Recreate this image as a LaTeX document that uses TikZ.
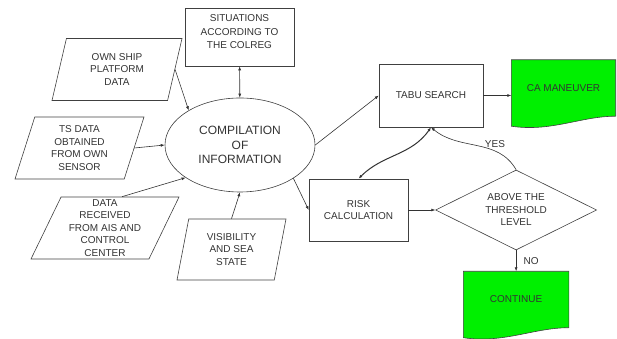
\documentclass[tikz,border=0pt]{standalone}
\usepackage{fontspec}
\setmainfont{Liberation Sans}
\usetikzlibrary{shapes.geometric,arrows.meta,positioning,calc,backgrounds}
\definecolor{docgreen}{RGB}{0,240,0}

\begin{document}
\begin{tikzpicture}[x=1pt, y=1pt,
  every node/.style={text=black!80, font=\fontsize{10}{12.5}\selectfont},
  block/.style={rectangle, draw=black!75, line width=0.6pt, align=center, inner sep=1pt},
  io/.style={trapezium, trapezium left angle=#1, trapezium right angle=180-#1, trapezium stretches body, draw=black!75, line width=0.6pt, align=center, inner sep=1pt, minimum height=62},
  io/.default=67,
  hub/.style={ellipse, draw=black!75, line width=0.6pt, align=center, inner sep=0pt, minimum width=150, minimum height=94, font=\fontsize{12}{14.5}\selectfont},
  decision/.style={diamond, aspect=2, draw=black!75, line width=0.6pt, align=center, inner sep=0pt, minimum width=161, minimum height=80},
  doc/.style={rectangle, align=center, inner sep=0pt, minimum width=104, minimum height=56},
  docfill/.style={draw=black!75, line width=0.6pt, fill=docgreen},
  arr/.style={-{Latex[length=4pt,width=3pt]}, draw=black!80, line width=0.6pt},
  dblarr/.style={{Latex[length=4pt,width=3pt]}-{Latex[length=4pt,width=3pt]}, draw=black!80, line width=0.6pt},
  lab/.style={font=\fontsize{10}{12}\selectfont}
]
\useasboundingbox (0,0) rectangle (617,339);
% inputs on the left
\node[block, minimum width=109, minimum height=58, text depth=10pt, font=\fontsize{10}{13.5}\selectfont] (sit) at (239.5,302) {SITUATIONS\\ACCORDING TO\\THE COLREG};
\node[io, minimum width=130] (own) at (117,269.5) {OWN SHIP\\PLATFORM\\DATA};
\node[io, minimum width=129] (ts) at (79.5,191) {TS DATA\\OBTAINED\\FROM OWN\\SENSOR};
\node[io=63, minimum width=148] (ais) at (105,111) {DATA\\RECEIVED\\FROM AIS AND\\CONTROL\\CENTER};
\node[io=71, minimum width=109, minimum height=61] (vis) at (231.5,89.5) {VISIBILITY\\AND SEA\\STATE};
\node[hub] (comp) at (240,194) {COMPILATION\\OF\\INFORMATION};
% decision part
\node[block, minimum width=104, minimum height=63] (tabu) at (431,243.5) {TABU SEARCH};
\node[doc, right=28pt of tabu, yshift=7.5pt] (ca) {CA MANEUVER};
\node[block, minimum width=99, minimum height=62] (risk) at (358.5,129) {RISK\\CALCULATION};
\node[decision, right=27pt of risk] (dec) {ABOVE THE\\THRESHOLD\\LEVEL};
\node[doc, minimum width=105, below=21pt of dec] (cont) {CONTINUE};
\begin{scope}[on background layer]
\draw[docfill] (ca.north west) -- (ca.north east) -- (ca.south east) .. controls ([xshift=-35pt]ca.south east) and ([xshift=40pt,yshift=-16pt]ca.south west) .. ([yshift=-10pt]ca.south west) -- cycle;
\draw[docfill] (cont.north west) -- (cont.north east) -- (cont.south east) .. controls ([xshift=-35pt]cont.south east) and ([xshift=40pt,yshift=-16pt]cont.south west) .. ([yshift=-10pt]cont.south west) -- cycle;
\end{scope}
\draw[dblarr] (sit) -- (comp);
\draw[arr] (own.east) -- (comp.146);
\draw[arr] (ts.east) -- (comp.west);
\draw[arr] ([xshift=17pt]ais.north) -- (comp.211);
\draw[arr] (vis.north) -- (comp.south);
\draw[arr] (comp.east) -- (tabu.west);
\draw[arr] (comp.-32) -- (risk.west);
\draw[arr] (risk.east) -- (dec.west);
\draw[arr] (tabu.east) -- (tabu.east -| ca.west);
\draw[dblarr, line width=1pt] (tabu.south) to[out=235, in=45] (risk.north);
\draw[arr] (dec.north) to[out=120, in=-40] node[lab, pos=0.3, above=0pt] {YES} (tabu.south);
\draw[arr] (dec.south) -- node[lab, right=4pt] {NO} (cont.north);
\end{tikzpicture}
\end{document}
